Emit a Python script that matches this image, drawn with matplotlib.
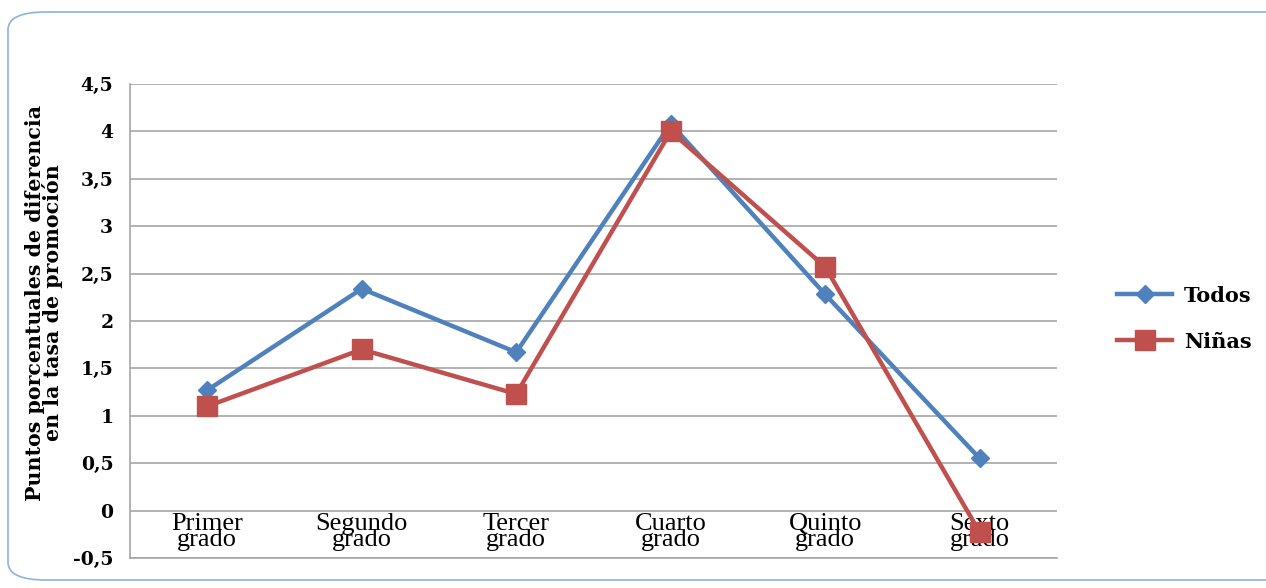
import matplotlib
matplotlib.use('Agg')
import matplotlib.pyplot as plt
from matplotlib.patches import FancyBboxPatch
from matplotlib.ticker import FuncFormatter

categorias = ['Primer\ngrado', 'Segundo\ngrado', 'Tercer\ngrado', 'Cuarto\ngrado', 'Quinto\ngrado', 'Sexto\ngrado']
todos = [1.27, 2.34, 1.67, 4.08, 2.28, 0.55]
ninas = [1.10, 1.70, 1.23, 4.00, 2.57, -0.23]
yticks = [-0.5, 0, 0.5, 1, 1.5, 2, 2.5, 3, 3.5, 4, 4.5]

azul = '#4F81BD'
rojo = '#C0504D'
serif = 'Liberation Serif'
ancha = 'DejaVu Serif'

fig = plt.figure(figsize=(12.66, 5.88), dpi=100)

# marco redondeado alrededor del gráfico
marco = FancyBboxPatch((8 / 1266, 8 / 588), 1300 / 1266, 568 / 588,
                       boxstyle='round,pad=0,rounding_size=0.03',
                       transform=fig.transFigure, fill=False,
                       edgecolor='#8DB3E2', linewidth=1.2)
fig.patches.append(marco)

ax = fig.add_axes([130 / 1266, 1 - 558 / 588, 927 / 1266, 474 / 588])
x = list(range(len(categorias)))
ax.plot(x, todos, color=azul, lw=3.2, marker='D', ms=9, label='Todos', zorder=3)
ax.plot(x, ninas, color=rojo, lw=3.2, marker='s', ms=14, label='Niñas', zorder=4)

ax.set_xlim(-0.5, len(categorias) - 0.5)
ax.set_ylim(-0.5, 4.5)
ax.set_yticks(yticks)
ax.yaxis.set_major_formatter(FuncFormatter(lambda v, p: f'{v:g}'.replace('.', ',')))
ax.tick_params(axis='y', length=0, pad=12)
ax.set_xticks([])
for lab in ax.get_yticklabels():
    lab.set_fontfamily(ancha)
    lab.set_fontweight('bold')
    lab.set_fontsize(13.5)

ax.grid(axis='y', color='#A6A6A6', lw=1.2)
ax.set_axisbelow(True)
for s in ['top', 'right']:
    ax.spines[s].set_visible(False)
for s in ['left', 'bottom']:
    ax.spines[s].set_color('#A6A6A6')
    ax.spines[s].set_linewidth(1.2)

# etiquetas de categorías dentro del área, bajo el cero
for i, c in enumerate(categorias):
    ax.text(i, -0.03, c, ha='center', va='top', fontsize=19, family=serif,
            linespacing=0.62, zorder=2)

fig.text(0.035, 0.5 - 0.015, 'Puntos porcentuales de diferencia\nen la tasa de promoción',
         rotation=90, ha='center', va='center', fontsize=14.8, fontweight='bold',
         family=ancha, linespacing=0.82)

leg = ax.legend(loc='center left', bbox_to_anchor=(1.045, 0.505), frameon=False,
                prop={'family': ancha, 'weight': 'bold', 'size': 15},
                handlelength=2.6, labelspacing=1.25, handletextpad=0.6)

fig.savefig('out.png', dpi=100)
